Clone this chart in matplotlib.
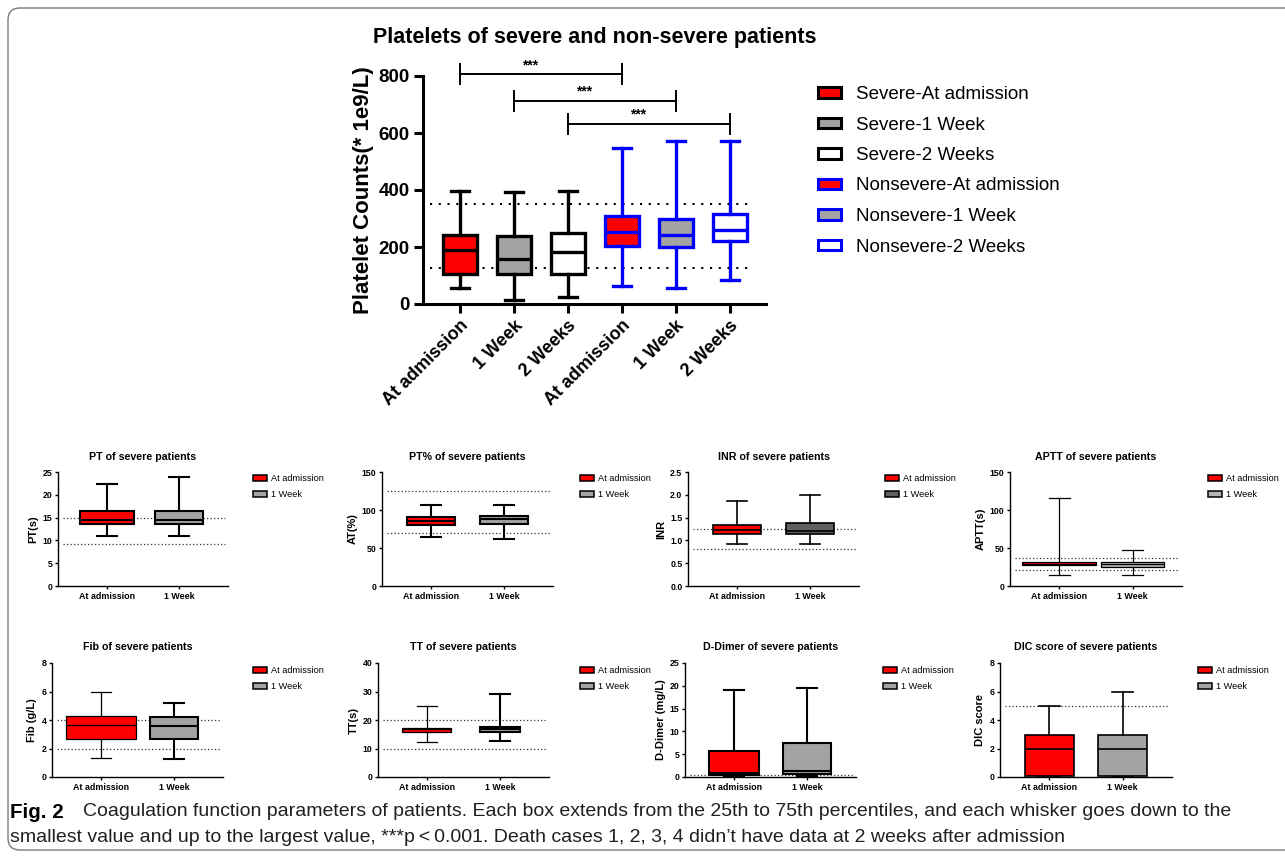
import matplotlib.pyplot as plt
from matplotlib.patches import Patch, FancyBboxPatch
from matplotlib.transforms import IdentityTransform

plt.rcParams['font.family'] = ['Liberation Sans', 'DejaVu Sans']

W, H = 1285, 858

# ---- main chart: platelets (min, q1, median, q3, max) ----
plt_labels = ['At admission', '1 Week', '2 Weeks', 'At admission', '1 Week', '2 Weeks']
plt_min = [55, 15, 25, 62, 55, 85]
plt_q1 = [105, 105, 105, 204, 200, 220]
plt_med = [188, 158, 183, 251, 243, 258]
plt_q3 = [243, 237, 249, 310, 300, 315]
plt_max = [395, 392, 398, 549, 572, 572]
plt_ref = [125, 350]
legend_labels = ['Severe-At admission', 'Severe-1 Week', 'Severe-2 Weeks',
                 'Nonsevere-At admission', 'Nonsevere-1 Week', 'Nonsevere-2 Weeks']
sig_pairs = [(1, 4), (2, 5), (3, 6)]
sig_level = [806, 712, 631]

# ---- small panels (min, q1, median, q3, max) ----
pt_adm = [11.0, 13.6, 14.5, 16.4, 22.4]
pt_week = [11.0, 13.5, 14.5, 16.4, 23.8]
pt_ref = [9.2, 15.0]
ptp_adm = [65, 80.7, 85.6, 91, 106]
ptp_week = [62, 81, 88, 92, 106]
ptp_ref = [70, 125]
inr_adm = [0.93, 1.14, 1.23, 1.34, 1.86]
inr_week = [0.93, 1.13, 1.21, 1.375, 1.99]
inr_ref = [0.81, 1.25]
aptt_adm = [14, 27, 29.5, 32, 116]
aptt_week = [14, 25.6, 28.7, 32, 47]
aptt_ref = [21, 37.5]
fib_adm = [1.34, 2.7, 3.62, 4.26, 5.98]
fib_week = [1.29, 2.68, 3.55, 4.19, 5.18]
fib_ref = [2, 4]
tt_adm = [12.2, 15.8, 16.7, 17.2, 24.9]
tt_week = [12.7, 15.8, 16.7, 17.5, 29.2]
tt_ref = [10, 20]
dd_adm = [0.15, 0.5, 0.96, 5.7, 19.1]
dd_week = [0.15, 0.74, 1.3, 7.5, 19.5]
dd_ref = [0.5]
dic_adm = [0, 0.05, 2.0, 2.92, 4.99]
dic_week = [0, 0.05, 2.0, 2.92, 5.98]
dic_ref = [5]
small_labels = ['At admission', '1 Week']

caption_1 = ('Coagulation function parameters of patients. Each box extends from the 25th to 75th percentiles, '
             'and each whisker goes down to the')
caption_2 = ('smallest value and up to the largest value, ***p\u2009<\u20090.001. Death cases 1, 2, 3, 4 didn\u2019t '
             'have data at 2 weeks after admission')

RED, GRAY, DGRAY, BLUE = '#ff0000', '#a3a3a3', '#606060', '#0000ff'


def stats_of(mins, q1s, meds, q3s, maxs):
    return [dict(whislo=a, q1=b, med=c, q3=d, whishi=e, fliers=[])
            for a, b, c, d, e in zip(mins, q1s, meds, q3s, maxs)]


def px_axes(x0, y0, x1, y1):
    return fig.add_axes([x0 / W, 1 - y1 / H, (x1 - x0) / W, (y1 - y0) / H])


def style_box(res, i, face, edge, lw):
    res['boxes'][i].set(facecolor=face, edgecolor=edge, linewidth=lw)
    res['medians'][i].set(color=edge, linewidth=lw)
    for ln in res['whiskers'][2 * i:2 * i + 2] + res['caps'][2 * i:2 * i + 2]:
        ln.set(color=edge, linewidth=lw)


fig = plt.figure(figsize=(W / 100, H / 100), dpi=100)

# frame around the figure
fig.patches.append(FancyBboxPatch((8, 8), 1400, 842, boxstyle='round,pad=0,rounding_size=12',
                                  transform=IdentityTransform(), fill=False,
                                  edgecolor='#7a7a7a', linewidth=1.0))

# ---------------- main chart ----------------
ax = px_axes(423, 76, 766, 304)
pos = [1, 2, 3, 4, 5, 6]
res = ax.bxp(stats_of(plt_min, plt_q1, plt_med, plt_q3, plt_max), positions=pos,
             widths=0.62, capwidths=0.33, patch_artist=True, showfliers=False)
faces = [RED, GRAY, 'white', RED, GRAY, 'white']
edges = ['black'] * 3 + [BLUE] * 3
for i in range(6):
    style_box(res, i, faces[i], edges[i], 2.4)
for r in plt_ref:
    ax.axhline(r, xmin=0.02, xmax=0.962, color='black', lw=1.5, ls=(0, (1, 3.2)), zorder=0)
ax.set_xlim(0.315, 6.67)
ax.set_ylim(0, 800)
ax.set_yticks([0, 200, 400, 600, 800])
ax.set_xticks(pos)
ax.set_xticklabels(plt_labels, rotation=45, ha='right', rotation_mode='anchor',
                   fontsize=13, fontweight='bold')
for t in ax.get_yticklabels():
    t.set_fontsize(13.5)
    t.set_fontweight('bold')
ax.spines[['top', 'right']].set_visible(False)
for s in ['left', 'bottom']:
    ax.spines[s].set_linewidth(2.2)
ax.tick_params(length=6.5, width=2.2, pad=3)
ax.set_ylabel('Platelet Counts(* 1e9/L)', fontsize=16, fontweight='bold', labelpad=3)
ax.set_title('Platelets of severe and non-severe patients', fontsize=15.5, fontweight='bold', pad=24)
cap = 35
for (a, b), y in zip(sig_pairs, sig_level):
    ax.plot([a, b], [y, y], color='black', lw=1.4, clip_on=False)
    ax.plot([a, a], [y - cap, y + cap], color='black', lw=1.4, clip_on=False)
    ax.plot([b, b], [y - cap, y + cap], color='black', lw=1.4, clip_on=False)
    ax.text((a + b) / 2 - 0.2, y + 8, '***', ha='center', va='bottom', fontsize=10, fontweight='bold')
handles = [Patch(facecolor=f, edgecolor=e, linewidth=2.2) for f, e in zip(faces, edges)]
ax.legend(handles, legend_labels, loc='upper left', bbox_to_anchor=(818 / W, 1 - 86 / H),
          bbox_transform=fig.transFigure, frameon=False, fontsize=13.5, handlelength=1.25,
          handleheight=0.5, handletextpad=0.8, labelspacing=0.72, borderpad=0, borderaxespad=0)

# ---------------- small panels ----------------
panels = [
    ('PT of severe patients', 'PT(s)', pt_adm, pt_week, pt_ref, [0, 5, 10, 15, 20, 25], '{:g}',
     (58, 472, 228, 586), (253, 474), [GRAY, 1.5, 1.5], (0.74, 0.66)),
    ('PT% of severe patients', 'AT(%)', ptp_adm, ptp_week, ptp_ref, [0, 50, 100, 150], '{:g}',
     (382, 472, 553, 586), (580, 474), [GRAY, 1.5, 1.5], (0.66, 0.66)),
    ('INR of severe patients', 'INR', inr_adm, inr_week, inr_ref, [0, 0.5, 1.0, 1.5, 2.0, 2.5], '{:.1f}',
     (688, 472, 859, 586), (885, 474), [DGRAY, 1.2, 1.2], (0.66, 0.66)),
    ('APTT of severe patients', 'APTT(s)', aptt_adm, aptt_week, aptt_ref, [0, 50, 100, 150], '{:g}',
     (1010, 472, 1182, 586), (1208, 474), ['#b5b5b5', 0.9, 0.9], (1.0, 0.86)),
    ('Fib of severe patients', 'Fib (g/L)', fib_adm, fib_week, fib_ref, [0, 2, 4, 6, 8], '{:g}',
     (52, 663, 223, 777), (253, 666), [GRAY, 0.9, 1.5], (0.97, 0.66)),
    ('TT of severe patients', 'TT(s)', tt_adm, tt_week, tt_ref, [0, 10, 20, 30, 40], '{:g}',
     (378, 663, 549, 777), (580, 666), [GRAY, 0.9, 1.5], (0.67, 0.54)),
    ('D-Dimer of severe patients', 'D-Dimer (mg/L)', dd_adm, dd_week, dd_ref, [0, 5, 10, 15, 20, 25], '{:g}',
     (685, 663, 856, 777), (883, 666), [GRAY, 1.5, 1.5], (0.68, 0.65)),
    ('DIC score of severe patients', 'DIC score', dic_adm, dic_week, dic_ref, [0, 2, 4, 6, 8], '{:g}',
     (1000, 663, 1172, 777), (1198, 666), [GRAY, 1.2, 1.2], (0.66, 0.67)),
]

for title, ylab, adm, week, refs, ticks, fmt, box, leg, (wcol, lw1, lw2), wid in panels:
    a = px_axes(*box)
    st = stats_of(*zip(adm, week))
    r = a.bxp(st, positions=[1, 2], widths=list(wid), capwidths=0.28, patch_artist=True, showfliers=False)
    style_box(r, 0, RED, 'black', lw1)
    style_box(r, 1, wcol, 'black', lw2)
    for v in refs:
        a.axhline(v, xmin=0.03, xmax=0.985, color='#333333', lw=0.9, ls=(0, (1, 1.8)), zorder=0)
    a.set_xlim(0.33, 2.67)
    a.set_ylim(ticks[0], ticks[-1])
    a.set_yticks(ticks)
    a.set_yticklabels([fmt.format(t) for t in ticks], fontsize=6.3, fontweight='bold')
    a.set_xticks([1, 2])
    a.set_xticklabels(small_labels, fontsize=6.4, fontweight='bold')
    a.spines[['top', 'right']].set_visible(False)
    for s in ['left', 'bottom']:
        a.spines[s].set_linewidth(1.0)
    a.tick_params(length=2.5, width=1.0, pad=1.5)
    a.set_title(title, fontsize=7.7, fontweight='bold', pad=9)
    a.set_ylabel(ylab, fontsize=8, fontweight='bold', labelpad=3)
    hs = [Patch(facecolor=RED, edgecolor='black', linewidth=1.1),
          Patch(facecolor=wcol, edgecolor='black', linewidth=1.1)]
    a.legend(hs, small_labels, loc='upper left', bbox_to_anchor=(leg[0] / W, 1 - leg[1] / H),
             bbox_transform=fig.transFigure, frameon=False, fontsize=6.6, handlelength=1.5,
             handleheight=0.7, handletextpad=0.5, labelspacing=0.8, borderpad=0, borderaxespad=0)

# ---------------- caption ----------------
renderer = fig.canvas.get_renderer()
t1 = fig.text(83 / W, 1 - 812 / H, caption_1, fontsize=13, va='center', color='#231f20')
cap_fs = 13 * 1140 / t1.get_window_extent(renderer).width
t1.set_fontsize(cap_fs)
fig.text(10 / W, 1 - 812 / H, 'Fig. 2', fontsize=cap_fs * 1.05, fontweight='bold', va='center')
fig.text(10 / W, 1 - 837 / H, caption_2, fontsize=cap_fs, va='center', color='#231f20',
         family=['Liberation Sans', 'DejaVu Sans'])

fig.savefig('out.png', dpi=100)
